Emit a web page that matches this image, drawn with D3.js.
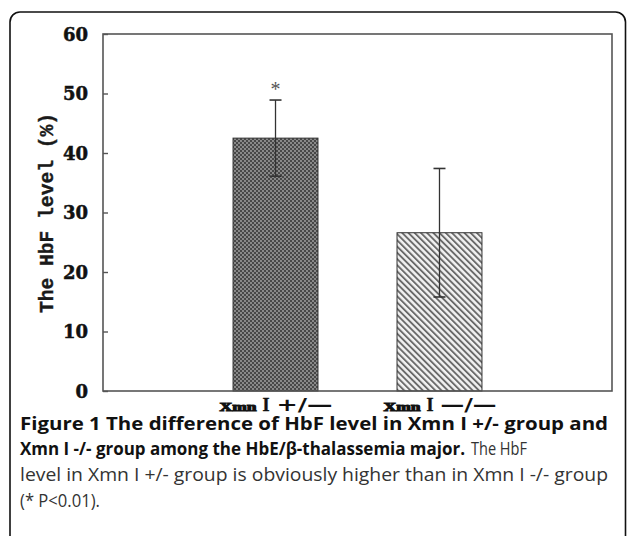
<!DOCTYPE html>
<html>
<head>
<meta charset="utf-8">
<script src="https://cdn.jsdelivr.net/npm/d3@7"></script>
<style>
  html, body { margin: 0; padding: 0; background: #fff; }
  svg { display: block; }
</style>
</head>
<body>
<script>
// ---- data ----
const categories = ["Xmn I +/—", "Xmn I —/—"];
const means = [42.5, 26.6];
const sds = [6.4, 10.8];
const marks = ["*", ""];
const yTicks = [0, 10, 20, 30, 40, 50, 60];
const yLabel = "The HbF level (%)";
const captionSegments = [
  {t: "Figure 1 The difference of HbF level in Xmn I +/- group and", b: true, line: 0},
  {t: "Xmn I -/- group among the HbE/β-thalassemia major.", b: true, line: 1},
  {t: "The HbF", b: false, line: 1},
  {t: "level in Xmn I +/- group is obviously higher than in Xmn I -/- group", b: false, line: 2},
  {t: "(* P<0.01).", b: false, line: 3}
];

const W = 627, H = 536;
const svg = d3.select("body").append("svg").attr("width", W).attr("height", H);

// patterns
const defs = svg.append("defs");
const p1 = defs.append("pattern").attr("id", "dots").attr("patternUnits", "userSpaceOnUse")
  .attr("width", 4).attr("height", 4);
p1.append("rect").attr("width", 4).attr("height", 4).attr("fill", "#474747");
p1.append("circle").attr("cx", 1).attr("cy", 1).attr("r", 0.9).attr("fill", "#a8a8a8");
p1.append("circle").attr("cx", 3).attr("cy", 3).attr("r", 0.9).attr("fill", "#a8a8a8");
const p2 = defs.append("pattern").attr("id", "hatch").attr("patternUnits", "userSpaceOnUse")
  .attr("width", 4.4).attr("height", 4.4).attr("patternTransform", "rotate(-45)");
p2.append("rect").attr("width", 4.4).attr("height", 4.4).attr("fill", "#f2f2f2");
p2.append("rect").attr("x", 0).attr("width", 1.9).attr("height", 4.4).attr("fill", "#6a6a6a");
const fills = ["url(#dots)", "url(#hatch)"];

// outer box
svg.append("rect").attr("x", 10).attr("y", 12).attr("width", 615.5).attr("height", 620)
  .attr("rx", 10).attr("fill", "none").attr("stroke", "#111").attr("stroke-width", 1.6);

// plot area
const pl = {x0: 103, x1: 612, y0: 34, y1: 391};
const y = d3.scaleLinear().domain([0, 60]).range([pl.y1, pl.y0]);
const x = d3.scaleBand().domain(categories).range([pl.x0, pl.x1])
  .paddingInner(0.482).paddingOuter(0.793);

const g = svg.append("g");

// bars
g.selectAll("rect.bar").data(categories).join("rect").attr("class", "bar")
  .attr("x", d => x(d)).attr("width", x.bandwidth())
  .attr("y", (d, i) => y(means[i])).attr("height", (d, i) => y(0) - y(means[i]))
  .attr("fill", (d, i) => fills[i]).attr("stroke", "#333").attr("stroke-width", 1);

// frame
g.append("rect").attr("x", pl.x0).attr("y", pl.y0).attr("width", pl.x1 - pl.x0).attr("height", pl.y1 - pl.y0)
  .attr("fill", "none").attr("stroke", "#555").attr("stroke-width", 1.6);

// y axis
const yAxis = d3.axisLeft(y).tickValues(yTicks).tickSize(-5).tickPadding(15).tickFormat(d3.format("d"));
const ya = g.append("g").attr("transform", `translate(${pl.x0},0)`).call(yAxis);
ya.select(".domain").remove();
ya.selectAll(".tick line").attr("stroke", "#555").attr("stroke-width", 1.4);
ya.selectAll(".tick text").attr("font-family", "DejaVu Serif").attr("font-weight", "bold")
  .attr("font-size", 18).attr("fill", "#111").attr("stroke", "#111").attr("stroke-width", 0.5)
  .attr("dy", "0.36em");

// error bars
const eb = g.selectAll("g.eb").data(categories).join("g").attr("class", "eb")
  .attr("transform", d => `translate(${x(d) + x.bandwidth() / 2},0)`);
eb.append("line").attr("y1", (d, i) => y(means[i] + sds[i])).attr("y2", (d, i) => y(means[i] - sds[i]))
  .attr("stroke", "#333").attr("stroke-width", 1.3);
eb.append("line").attr("x1", -6).attr("x2", 6).attr("y1", (d, i) => y(means[i] + sds[i])).attr("y2", (d, i) => y(means[i] + sds[i]))
  .attr("stroke", "#333").attr("stroke-width", 1.6);
eb.append("line").attr("x1", -6).attr("x2", 6).attr("y1", (d, i) => y(means[i] - sds[i])).attr("y2", (d, i) => y(means[i] - sds[i]))
  .attr("stroke", "#333").attr("stroke-width", 1.6);
eb.append("text").text((d, i) => marks[i]).attr("text-anchor", "middle")
  .attr("y", (d, i) => y(means[i] + sds[i]) - 4)
  .attr("font-family", "Liberation Serif").attr("font-size", 20).attr("fill", "#555");

// category labels: three parts each
const cat = g.selectAll("g.cat").data(categories).join("g").attr("class", "cat")
  .attr("transform", d => `translate(${x(d) + x.bandwidth() / 2},411)`);
cat.append("text").text(d => d.split(" ")[0]).attr("x", -56)
  .attr("font-family", "Liberation Serif").attr("font-weight", "bold").attr("font-size", 12)
  .attr("textLength", 37).attr("lengthAdjust", "spacingAndGlyphs").attr("fill", "#111")
  .attr("stroke", "#111").attr("stroke-width", 1);
cat.append("text").text(d => d.split(" ")[1]).attr("x", -13)
  .attr("font-family", "Liberation Serif").attr("font-weight", "bold").attr("font-size", 18)
  .attr("fill", "#111").attr("stroke", "#111").attr("stroke-width", 0.4);
cat.append("text").text(d => d.split(" ")[2]).attr("x", 1)
  .attr("font-family", "DejaVu Sans").attr("font-weight", "bold").attr("font-size", 17)
  .attr("textLength", 56).attr("lengthAdjust", "spacingAndGlyphs").attr("fill", "#111");

// y label
svg.append("text").attr("transform", `translate(53,213) rotate(-90)`).attr("text-anchor", "middle")
  .attr("font-family", "Liberation Mono").attr("font-weight", "bold").attr("font-size", 21)
  .attr("textLength", 200).attr("lengthAdjust", "spacingAndGlyphs").attr("fill", "#1a1a1a")
  .attr("stroke", "#1a1a1a").attr("stroke-width", 0.4)
  .text(yLabel);

// caption
const baselines = [430, 455, 481, 507];
const segX = [20, 20, 471, 20, 20];
const segW = [588, 445, 56, 588, 80];
captionSegments.forEach((seg, si) => {
  svg.append("text").attr("x", segX[si]).attr("y", baselines[seg.line])
    .attr("font-family", "Open Sans").attr("font-size", 18)
    .attr("font-weight", seg.b ? "bold" : "normal").attr("fill", seg.b ? "#111" : "#333")
    .attr("textLength", segW[si]).attr("lengthAdjust", "spacingAndGlyphs")
    .text(seg.t);
});
</script>
</body>
</html>
